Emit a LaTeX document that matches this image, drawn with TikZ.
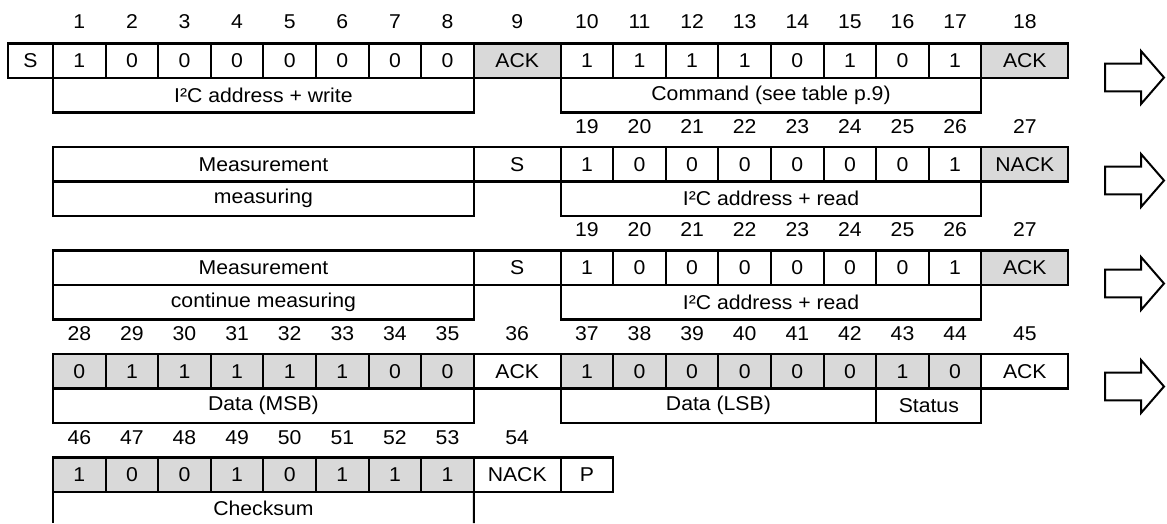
\documentclass[tikz,border=0pt]{standalone}
\usepackage{fontspec}
\setmainfont{Liberation Sans}[FakeStretch=1.06]
\definecolor{cellgray}{RGB}{217,217,217}
\tikzset{
  every node/.style={font=\fontsize{20}{24}\selectfont},
  cell/.style={draw, line width=2.1pt, inner sep=0pt, outer sep=0pt, minimum height=34.5pt, anchor=north west},
  bitcell/.style={cell, minimum width=52.6pt},
  widecell/.style={cell, minimum width=86.8pt},
  labelbox/.style={cell, minimum width=#1},
  shaded/.style={fill=cellgray},
  num/.style={inner sep=0pt, anchor=center},
  blockarrow/.style={draw, line width=2pt, line join=miter},
  edge/.style={line width=2.1pt}
}
\begin{document}
\begin{tikzpicture}[x=1pt,y=-1pt]
\useasboundingbox (0,0) rectangle (1167,523);
% ---------------- Row 1 (top 43.5)
\node[cell, minimum width=45pt] (r1s) at (8,43.5) {S};
\foreach \v [count=\i] in {1,0,0,0,0,0,0,0} {
  \node[bitcell] (r1a\i) at ({53+(\i-1)*52.6},43.5) {\v};
  \node[num] (n1a\i) at ({53+(\i-0.5)*52.6},22) {\i};
}
\node[widecell, shaded] (r1k1) at (473.8,43.5) {ACK};
\node[num] (n1k1) at (517.2,22) {9};
\foreach \v [count=\i] in {1,1,1,1,0,1,0,1} {
  \pgfmathtruncatemacro{\n}{\i+9}
  \node[bitcell] (r1b\i) at ({560.6+(\i-1)*52.6},43.5) {\v};
  \node[num] (n1b\i) at ({560.6+(\i-0.5)*52.6},22) {\n};
}
\node[widecell, shaded] (r1k2) at (981.4,43.5) {ACK};
\node[num] (n1k2) at (1024.8,22) {18};
\node[labelbox=420.8pt] (r1l1) at (53,78) {I²C address + write};
\node[labelbox=420.8pt] (r1l2) at (560.6,78) {Command (see table p.9)};
% ---------------- Row 2 (top 147)
\node[labelbox=420.8pt] (r2m) at (53,147) {Measurement};
\node[labelbox=420.8pt] (r2m2) at (53,181.5) {measuring};
\node[widecell] (r2s) at (473.8,147) {S};
\foreach \v [count=\i] in {1,0,0,0,0,0,0,1} {
  \pgfmathtruncatemacro{\n}{\i+18}
  \node[bitcell] (r2b\i) at ({560.6+(\i-1)*52.6},147) {\v};
  \node[num] (n2b\i) at ({560.6+(\i-0.5)*52.6},126.5) {\n};
}
\node[widecell, shaded] (r2k) at (981.4,147) {NACK};
\node[num] (n2k) at (1024.8,126.5) {27};
\node[labelbox=420.8pt] (r2l) at (560.6,181.5) {I²C address + read};
% ---------------- Row 3 (top 250.5)
\node[labelbox=420.8pt] (r3m) at (53,250.5) {Measurement};
\node[labelbox=420.8pt] (r3m2) at (53,285) {continue measuring};
\node[widecell] (r3s) at (473.8,250.5) {S};
\foreach \v [count=\i] in {1,0,0,0,0,0,0,1} {
  \pgfmathtruncatemacro{\n}{\i+18}
  \node[bitcell] (r3b\i) at ({560.6+(\i-1)*52.6},250.5) {\v};
  \node[num] (n3b\i) at ({560.6+(\i-0.5)*52.6},230) {\n};
}
\node[widecell, shaded] (r3k) at (981.4,250.5) {ACK};
\node[num] (n3k) at (1024.8,230) {27};
\node[labelbox=420.8pt] (r3l) at (560.6,285) {I²C address + read};
% ---------------- Row 4 (top 354)
\foreach \v [count=\i] in {0,1,1,1,1,1,0,0} {
  \pgfmathtruncatemacro{\n}{\i+27}
  \node[bitcell, shaded] (r4a\i) at ({53+(\i-1)*52.6},354) {\v};
  \node[num] (n4a\i) at ({53+(\i-0.5)*52.6},334) {\n};
}
\node[widecell] (r4k1) at (473.8,354) {ACK};
\node[num] (n4k1) at (517.2,334) {36};
\foreach \v [count=\i] in {1,0,0,0,0,0,1,0} {
  \pgfmathtruncatemacro{\n}{\i+36}
  \node[bitcell, shaded] (r4b\i) at ({560.6+(\i-1)*52.6},354) {\v};
  \node[num] (n4b\i) at ({560.6+(\i-0.5)*52.6},334) {\n};
}
\node[widecell] (r4k2) at (981.4,354) {ACK};
\node[num] (n4k2) at (1024.8,334) {45};
\node[labelbox=420.8pt] (r4l1) at (53,388.5) {Data (MSB)};
\node[labelbox=315.6pt] (r4l2) at (560.6,388.5) {Data (LSB)};
\node[labelbox=105.2pt] (r4l3) at (876.2,388.5) {Status};
% ---------------- Row 5 (top 457.5)
\foreach \v [count=\i] in {1,0,0,1,0,1,1,1} {
  \pgfmathtruncatemacro{\n}{\i+45}
  \node[bitcell, shaded] (r5a\i) at ({53+(\i-1)*52.6},457.5) {\v};
  \node[num] (n5a\i) at ({53+(\i-0.5)*52.6},437.5) {\n};
}
\node[widecell] (r5k) at (473.8,457.5) {NACK};
\node[num] (n5k) at (517.2,437.5) {54};
\node[bitcell] (r5p) at (560.6,457.5) {P};
\node[num] (cs) at (263.4,508.5) {Checksum};
\coordinate (csl) at (53,523);
\coordinate (csr) at (473.8,523);
\draw[edge] (r5a1.south west) -- (csl);
\draw[edge] (r5a8.south east) -- (csr);
% ---------------- block arrows
\foreach \c in {77.5,180.5,283.5,386.5} {
  \draw[blockarrow] (1105,\c-13.8) -- (1141,\c-13.8) -- (1141,\c-26.5) -- (1164,\c)
    -- (1141,\c+26.5) -- (1141,\c+13.8) -- (1105,\c+13.8) -- cycle;
}
\end{tikzpicture}
\end{document}
